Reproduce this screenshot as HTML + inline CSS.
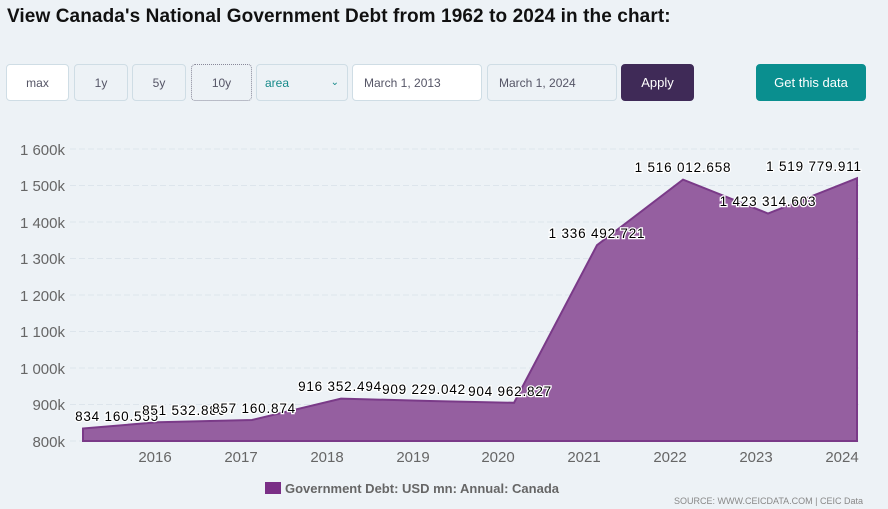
<!DOCTYPE html>
<html><head><meta charset="utf-8"><style>
body{margin:0;width:888px;height:509px;background:#edf2f6;font-family:"Liberation Sans",sans-serif;overflow:hidden;position:relative}
h1{position:absolute;left:7px;top:6px;margin:0;font-size:19px;font-weight:bold;color:#111;letter-spacing:0.1px}
.b{position:absolute;top:64px;height:37px;box-sizing:border-box;border:1px solid #cfdde5;border-radius:4px;font-size:12px;color:#556;display:flex;align-items:center;justify-content:center;background:#edf2f6}
</style></head><body>
<h1>View Canada's National Government Debt from 1962 to 2024 in the chart:</h1>
<div class="b" style="left:6px;width:63px;background:#fff">max</div>
<div class="b" style="left:74px;width:54px">1y</div>
<div class="b" style="left:132px;width:54px">5y</div>
<div class="b" style="left:191px;width:61px;border:1px dotted #889">10y</div>
<div class="b" style="left:256px;width:92px;justify-content:space-between;padding:0 8px;color:#178a8a">area<span style="font-size:10px">&#8964;</span></div>
<div class="b" style="left:352px;width:130px;background:#fff;justify-content:flex-start;padding-left:11px">March 1, 2013</div>
<div class="b" style="left:487px;width:130px;justify-content:flex-start;padding-left:11px">March 1, 2024</div>
<div class="b" style="left:621px;width:73px;background:#3f2a57;border-color:#3f2a57;color:#fff;font-size:13px">Apply</div>
<div class="b" style="left:756px;width:110px;background:#0a8f8f;border-color:#0a8f8f;color:#fff;font-size:13px">Get this data</div>
<svg width="888" height="509" style="position:absolute;left:0;top:0" font-family="Liberation Sans, sans-serif">
<g stroke="#dde5ec" stroke-dasharray="6,3">
<line x1="70" x2="860" y1="149" y2="149"/><line x1="70" x2="860" y1="185.5" y2="185.5"/><line x1="70" x2="860" y1="222" y2="222"/><line x1="70" x2="860" y1="258.5" y2="258.5"/><line x1="70" x2="860" y1="295" y2="295"/><line x1="70" x2="860" y1="331.5" y2="331.5"/><line x1="70" x2="860" y1="368" y2="368"/><line x1="70" x2="860" y1="404.5" y2="404.5"/><line x1="70" x2="860" y1="441" y2="441"/>
</g>
<g font-size="15" fill="#666" text-anchor="end">
<text x="65" y="155">1 600k</text><text x="65" y="191">1 500k</text><text x="65" y="228">1 400k</text><text x="65" y="264">1 300k</text><text x="65" y="301">1 200k</text><text x="65" y="337">1 100k</text><text x="65" y="374">1 000k</text><text x="65" y="410">900k</text><text x="65" y="447">800k</text>
</g>
<path d="M83,428.5 L158,422.2 L252,420 L341,398.6 L430,401 L514,402.8 L597,245.2 L683,179.6 L768,213.5 L857,178.2 L857,441 L83,441 Z" fill="#955fa0" stroke="#7a3a88" stroke-width="2"/>
<g font-size="15" fill="#666" text-anchor="middle">
<text x="155" y="462">2016</text><text x="241" y="462">2017</text><text x="327" y="462">2018</text><text x="413" y="462">2019</text><text x="498" y="462">2020</text><text x="584" y="462">2021</text><text x="670" y="462">2022</text><text x="756" y="462">2023</text><text x="842" y="462">2024</text>
</g>
<g font-size="13.5" fill="#000" text-anchor="middle" stroke="#fff" stroke-width="2.5" paint-order="stroke" letter-spacing="0.8">
<text x="117" y="421">834 160.555</text><text x="184" y="415">851 532.886</text><text x="254" y="413">857 160.874</text><text x="340" y="391">916 352.494</text><text x="424" y="394">909 229.042</text><text x="510" y="396">904 962.827</text><text x="597" y="238">1 336 492.721</text><text x="683" y="172">1 516 012.658</text><text x="768" y="206">1 423 314.603</text><text x="814" y="171">1 519 779.911</text>
</g>
<rect x="265" y="482" width="16" height="12" fill="#7a2f86"/>
<text x="285" y="493" font-size="13" font-weight="bold" fill="#666">Government Debt: USD mn: Annual: Canada</text>
<text x="863" y="504" font-size="9" fill="#888" text-anchor="end">SOURCE: WWW.CEICDATA.COM | CEIC Data</text>
</svg>
</body></html>
